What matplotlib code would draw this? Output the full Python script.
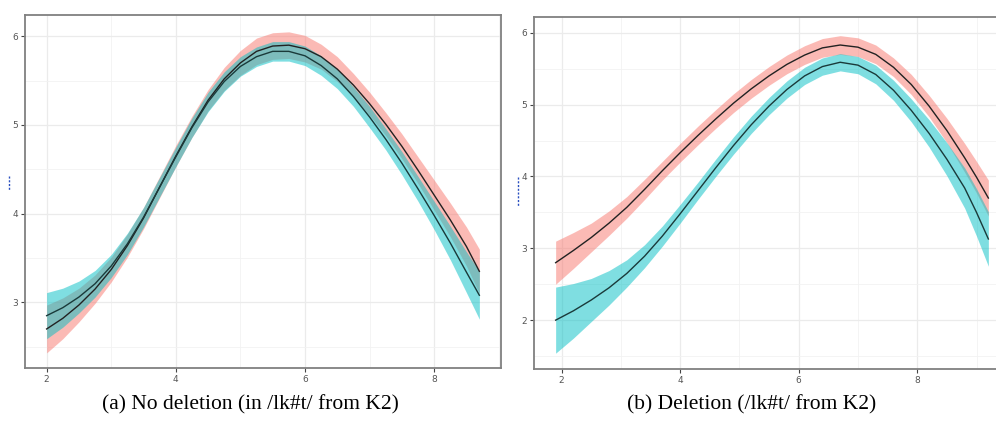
import matplotlib
matplotlib.use("Agg")
import matplotlib.pyplot as plt
from matplotlib.lines import Line2D
import numpy as np

# ---- panel (a): no deletion ----
x_a = [2.0, 2.25, 2.5, 2.75, 3.0, 3.25, 3.5, 3.75, 4.0, 4.25, 4.5, 4.75, 5.0, 5.25,
       5.5, 5.75, 6.0, 6.25, 6.5, 6.75, 7.0, 7.25, 7.5, 7.75, 8.0, 8.25, 8.5, 8.7]
red_a = [2.70, 2.82, 2.97, 3.15, 3.37, 3.64, 3.95, 4.30, 4.65, 4.98, 5.28, 5.52, 5.70, 5.83,
         5.89, 5.90, 5.86, 5.77, 5.63, 5.45, 5.24, 5.01, 4.76, 4.49, 4.21, 3.93, 3.63, 3.35]
red_a_hw = [0.27, 0.23, 0.19, 0.16, 0.14, 0.13, 0.12, 0.12, 0.12, 0.12, 0.12, 0.13, 0.14, 0.15,
            0.15, 0.15, 0.15, 0.14, 0.14, 0.13, 0.13, 0.13, 0.14, 0.15, 0.17, 0.19, 0.22, 0.25]
cyan_a = [2.85, 2.94, 3.06, 3.21, 3.41, 3.66, 3.96, 4.30, 4.64, 4.97, 5.26, 5.49, 5.66, 5.77,
          5.83, 5.83, 5.78, 5.67, 5.52, 5.32, 5.09, 4.84, 4.57, 4.28, 3.98, 3.67, 3.34, 3.08]
cyan_a_hw = [0.26, 0.22, 0.18, 0.15, 0.13, 0.12, 0.11, 0.11, 0.11, 0.11, 0.11, 0.11, 0.11, 0.11,
             0.11, 0.11, 0.11, 0.11, 0.11, 0.11, 0.12, 0.12, 0.13, 0.14, 0.16, 0.19, 0.23, 0.27]

# ---- panel (b): deletion ----
x_b = [1.9, 2.2, 2.5, 2.8, 3.1, 3.4, 3.7, 4.0, 4.3, 4.6, 4.9, 5.2, 5.5, 5.8,
       6.1, 6.4, 6.7, 7.0, 7.3, 7.6, 7.9, 8.2, 8.5, 8.8, 9.0, 9.2]
red_b = [2.80, 2.97, 3.15, 3.35, 3.57, 3.82, 4.08, 4.33, 4.57, 4.80, 5.02, 5.22, 5.40, 5.56,
         5.69, 5.79, 5.83, 5.80, 5.70, 5.52, 5.28, 4.98, 4.64, 4.26, 3.99, 3.70]
red_b_hw = [0.30, 0.25, 0.20, 0.17, 0.15, 0.14, 0.13, 0.13, 0.13, 0.13, 0.13, 0.13, 0.13, 0.13,
            0.13, 0.13, 0.13, 0.13, 0.13, 0.13, 0.14, 0.15, 0.17, 0.20, 0.22, 0.25]
cyan_b = [2.00, 2.13, 2.28, 2.45, 2.65, 2.89, 3.17, 3.48, 3.80, 4.12, 4.43, 4.72, 4.98, 5.21,
          5.40, 5.53, 5.59, 5.55, 5.42, 5.20, 4.92, 4.60, 4.24, 3.84, 3.50, 3.13]
cyan_b_hw = [0.46, 0.38, 0.30, 0.24, 0.19, 0.16, 0.14, 0.13, 0.12, 0.12, 0.12, 0.12, 0.12, 0.12,
             0.12, 0.12, 0.12, 0.12, 0.13, 0.14, 0.16, 0.19, 0.23, 0.28, 0.33, 0.38]

captions = ["(a) No deletion (in /lk#t/ from K2)", "(b) Deletion (/lk#t/ from K2)"]

RED = "#F8766D"
CYAN = "#00BFC4"

fig = plt.figure(figsize=(9.96, 4.21), dpi=100)
W, H = 996.0, 421.0

def px_axes(l, t, r, b):
    return fig.add_axes([l / W, 1 - b / H, (r - l) / W, (b - t) / H])

ax_a = px_axes(25, 15, 501, 368)
ax_b = px_axes(534, 17, 1010, 369)

def draw_panel(ax, x, red, red_hw, cyan, cyan_hw, xlim, ylim, yticks):
    x = np.array(x)
    red, red_hw = np.array(red), np.array(red_hw)
    cyan, cyan_hw = np.array(cyan), np.array(cyan_hw)
    ax.fill_between(x, red - red_hw, red + red_hw, color=RED, alpha=0.5, lw=0, zorder=2)
    ax.fill_between(x, cyan - cyan_hw, cyan + cyan_hw, color=CYAN, alpha=0.5, lw=0, zorder=3)
    ax.plot(x, red, color="#222222", lw=1.0, zorder=4)
    ax.plot(x, cyan, color="#1a3a3a", lw=1.0, zorder=4)
    ax.set_xticks([2, 4, 6, 8])
    ax.set_yticks(yticks)
    ax.set_xticks([3, 5, 7, 9], minor=True)
    ax.set_yticks([v + 0.5 for v in [yticks[0] - 1] + yticks], minor=True)
    # limits last, set_ticks would widen them otherwise
    ax.set_xlim(xlim)
    ax.set_ylim(ylim)
    ax.grid(which="major", color="#EBEBEB", lw=0.9, zorder=0)
    ax.grid(which="minor", color="#F2F2F2", lw=0.6, zorder=0)
    ax.set_axisbelow(True)
    ax.tick_params(which="major", length=3, width=0.8, color="#444444",
                   labelsize=6.5, labelcolor="#555555", pad=2)
    ax.tick_params(which="minor", length=0)
    for s in ax.spines.values():
        s.set_color("#808080")
        s.set_linewidth(1.3)

draw_panel(ax_a, x_a, red_a, red_a_hw, cyan_a, cyan_a_hw, (1.665, 9.035), (2.26, 6.24), [3, 4, 5, 6])
draw_panel(ax_b, x_b, red_b, red_b_hw, cyan_b, cyan_b_hw, (1.535, 9.565), (1.32, 6.22), [2, 3, 4, 5, 6])

fig.text(250 / W, 1 - 405 / H, captions[0], family="Liberation Serif", fontsize=15.5,
         ha="center", va="center")
fig.text(752 / W, 1 - 405 / H, captions[1], family="Liberation Serif", fontsize=15.5,
         ha="center", va="center")

# cropped y-axis title remnants (blue)
fig.add_artist(Line2D([8.5 / W, 8.5 / W], [1 - 176 / H, 1 - 191 / H], color="#2a4fc0",
                      lw=1.0, dashes=(1.5, 1.2)))
fig.add_artist(Line2D([517.5 / W, 517.5 / W], [1 - 177 / H, 1 - 207 / H], color="#2a4fc0",
                      lw=1.0, dashes=(1.5, 1.2)))

fig.savefig("out.png", dpi=100)
